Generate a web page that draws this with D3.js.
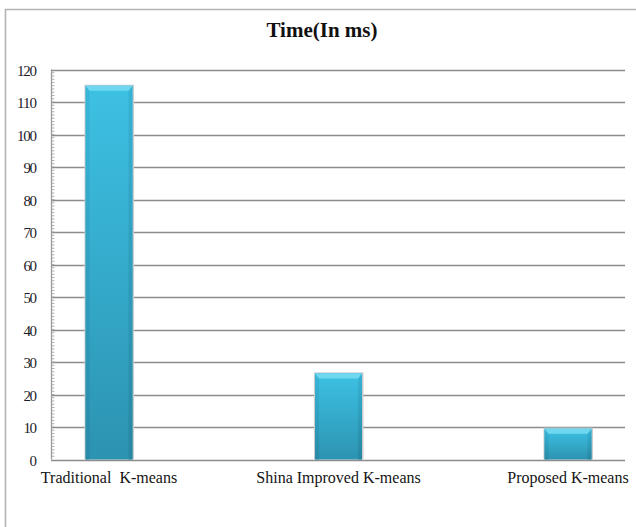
<!DOCTYPE html>
<html>
<head>
<meta charset="utf-8">
<script src="https://cdn.jsdelivr.net/npm/d3@7/dist/d3.min.js"></script>
<style>
  html, body { margin: 0; padding: 0; background: #ffffff; }
  svg { display: block; }
</style>
</head>
<body>
<svg id="chart" width="636" height="527"></svg>
<script>
// Run times of the three clustering methods
const categories = ["Traditional  K-means", "Shina Improved K-means", "Proposed K-means"];
const timeMs = [115, 26.5, 9.5];
const yTicks = [0, 10, 20, 30, 40, 50, 60, 70, 80, 90, 100, 110, 120];
const chartTitle = "Time(In ms)";

const W = 636, H = 527;
const plot = { left: 51, right: 625, top: 69.5, bottom: 459.5 };
const serif = "'Liberation Serif', 'Times New Roman', serif";

const svg = d3.select("#chart");

// outer frame of the chart object
svg.append("path")
  .attr("d", `M5.5,${H} V9.5 H${W}`)
  .attr("fill", "none")
  .attr("stroke", "#b4b4b4")
  .attr("stroke-width", 1.6);

// scales
const y = d3.scaleLinear().domain([0, 120]).range([plot.bottom, plot.top]);
const x = d3.scalePoint().domain(categories).range([plot.left + 58, plot.right - 57]);
const barW = 47;

// gradients for the bevelled bars
const defs = svg.append("defs");
const body = defs.append("linearGradient").attr("id", "barBody")
  .attr("x1", 0).attr("y1", 0).attr("x2", 0).attr("y2", 1);
body.append("stop").attr("offset", "0%").attr("stop-color", "#3dc1e4");
body.append("stop").attr("offset", "100%").attr("stop-color", "#2c93b1");
const side = defs.append("linearGradient").attr("id", "barSide")
  .attr("x1", 0).attr("y1", 0).attr("x2", 0).attr("y2", 1);
side.append("stop").attr("offset", "0%").attr("stop-color", "#35aed0");
side.append("stop").attr("offset", "100%").attr("stop-color", "#26829d");

// horizontal gridlines
svg.append("g")
  .selectAll("line")
  .data(yTicks)
  .join("line")
  .attr("x1", plot.left).attr("x2", plot.right)
  .attr("y1", d => Math.round(y(d)) + 0.5).attr("y2", d => Math.round(y(d)) + 0.5)
  .attr("stroke", "#8c8c8c")
  .attr("stroke-width", 1.3);

// value axis: line, minor ticks and labels
const yAxis = svg.append("g");
yAxis.append("line")
  .attr("x1", plot.left + 0.5).attr("x2", plot.left + 0.5)
  .attr("y1", y(120)).attr("y2", y(0))
  .attr("stroke", "#9a9a9a").attr("stroke-width", 1.3);
yAxis.selectAll("line.minor")
  .data(d3.range(1, 120))
  .join("line")
  .attr("class", "minor")
  .attr("x1", plot.left).attr("x2", plot.left + 3.5)
  .attr("y1", d => y(d)).attr("y2", d => y(d))
  .attr("stroke", "#a0a0a0").attr("stroke-width", 0.8);
yAxis.selectAll("text")
  .data(yTicks)
  .join("text")
  .attr("x", 37)
  .attr("y", d => y(d) + 6)
  .attr("text-anchor", "end")
  .attr("font-family", serif)
  .attr("font-size", 15)
  .attr("fill", "#1c1c28")
  .attr("textLength", d => String(d).length * 6.7)
  .text(d => d);

// bars
const bars = svg.append("g")
  .selectAll("g")
  .data(categories.map((c, i) => ({ c, v: timeMs[i] })))
  .join("g");

const bev = 5, sideW = 4;
bars.append("rect")   // soft shadow edge
  .attr("x", d => x(d.c) - barW / 2 - 1)
  .attr("y", d => y(d.v) - 1)
  .attr("width", barW + 2.5)
  .attr("height", d => y(0) - y(d.v) + 1)
  .attr("fill", "#c8cccd");
bars.append("rect")
  .attr("x", d => x(d.c) - barW / 2)
  .attr("y", d => y(d.v))
  .attr("width", barW)
  .attr("height", d => y(0) - y(d.v))
  .attr("fill", "url(#barBody)");
// left and right bevel faces
bars.append("path")
  .attr("d", d => {
    const x0 = x(d.c) - barW / 2, t = y(d.v), b = y(0);
    return `M${x0},${t} L${x0 + sideW},${t + bev} L${x0 + sideW},${b} L${x0},${b} Z`;
  })
  .attr("fill", "url(#barSide)").attr("opacity", 0.55);
bars.append("path")
  .attr("d", d => {
    const x1 = x(d.c) + barW / 2, t = y(d.v), b = y(0);
    return `M${x1},${t} L${x1 - sideW},${t + bev} L${x1 - sideW},${b} L${x1},${b} Z`;
  })
  .attr("fill", "url(#barSide)").attr("opacity", 0.75);
// top bevel face
bars.append("path")
  .attr("d", d => {
    const x0 = x(d.c) - barW / 2, x1 = x(d.c) + barW / 2, t = y(d.v);
    return `M${x0},${t} L${x1},${t} L${x1 - sideW},${t + bev} L${x0 + sideW},${t + bev} Z`;
  })
  .attr("fill", "#6fd8f1");

// category labels
svg.append("g")
  .selectAll("text")
  .data(categories)
  .join("text")
  .attr("x", d => x(d))
  .attr("y", y(0) + 23)
  .attr("text-anchor", "middle")
  .attr("font-family", serif)
  .attr("font-size", 16)
  .attr("fill", "#141414")
  .style("white-space", "pre")
  .text(d => d);

// title
svg.append("text")
  .attr("x", 322)
  .attr("y", 37)
  .attr("text-anchor", "middle")
  .attr("font-family", serif)
  .attr("font-weight", "bold")
  .attr("font-size", 21)
  .attr("fill", "#111")
  .text(chartTitle);
</script>
</body>
</html>
